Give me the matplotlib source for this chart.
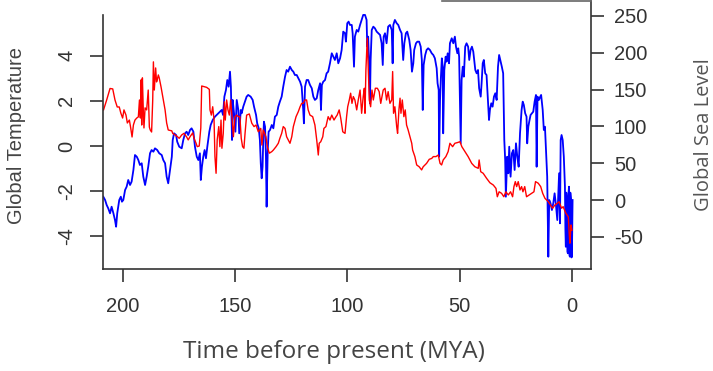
import matplotlib.pyplot as plt

plt.rcParams['font.family'] = ['Liberation Sans', 'DejaVu Sans']
plt.rcParams['axes.unicode_minus'] = False

# temperature record (left axis), time in million years before present
temp_time = [
    208.5, 207.1, 205.6, 204.4, 203.4, 202.4, 201.5, 200.8, 200.0, 199.4,
    198.5, 197.9, 197.0, 196.4, 195.8, 195.2, 194.5, 193.7, 193.0, 192.5,
    192.1, 191.8, 191.5, 191.2, 190.8, 190.5, 190.0, 189.3, 188.6, 188.1,
    187.7, 187.1, 186.6, 186.3, 185.9, 185.3, 184.9, 184.6, 184.1, 183.7,
    182.9, 181.9, 181.1, 180.4, 179.7, 178.1, 177.7, 176.7, 175.9, 174.8,
    173.7, 172.7, 171.5, 170.8, 170.0, 168.8, 168.2, 167.3, 166.8, 165.9,
    165.2, 164.8, 162.6, 161.4, 161.1, 160.5, 159.9, 159.3, 158.9, 158.4,
    157.9, 157.2, 156.7, 156.2, 155.8, 155.2, 154.7, 154.3, 153.7, 153.1,
    152.5, 151.9, 151.3, 150.7, 150.0, 149.2, 148.5, 147.8, 147.2, 146.6,
    146.0, 145.5, 144.8, 143.6, 142.5, 141.5, 140.6, 139.6, 138.5, 138.0,
    137.4, 136.8, 136.2, 135.6, 134.7, 133.6, 132.9, 131.7, 130.7, 130.0,
    129.2, 128.5, 127.7, 127.0, 126.3, 125.5, 124.7, 124.0, 122.8, 121.8,
    121.0, 120.3, 119.6, 118.8, 118.1, 117.4, 116.6, 115.4, 114.4, 113.6,
    112.9, 112.5, 111.8, 110.9, 110.4, 109.5, 108.5, 107.7, 106.9, 105.9,
    105.0, 104.5, 103.6, 102.9, 102.0, 101.0, 100.3, 99.8, 99.1, 98.5,
    97.9, 97.3, 96.6, 95.8, 95.1, 94.3, 93.6, 92.9, 92.4, 92.1,
    91.7, 91.1, 90.7, 90.2, 89.6, 89.0, 88.4, 87.5, 86.6, 85.8,
    85.1, 84.0, 83.2, 82.5, 81.8, 81.0, 80.2, 79.8, 79.4, 78.8,
    78.0, 77.6, 77.0, 76.5, 76.1, 75.5, 74.8, 74.2, 73.6, 72.9,
    72.1, 71.3, 70.9, 69.9, 69.1, 68.0, 66.9, 66.2, 64.7, 63.5,
    62.4, 61.7, 60.5, 59.5, 58.7, 58.0, 57.3, 56.1, 55.1, 54.3,
    53.1, 52.1, 51.0, 49.8, 49.0, 47.6, 46.2, 44.6, 43.2, 41.7,
    41.3, 40.6, 39.5, 38.0, 36.5, 35.0, 33.8, 33.2, 32.4, 31.3,
    30.3, 29.4, 28.3, 27.3, 26.4, 25.8, 25.2, 24.6, 23.9, 23.1,
    22.4, 21.8, 21.0, 20.2, 19.0, 17.9, 16.9, 16.2, 15.0, 13.9,
    13.0, 12.0, 10.5, 9.5, 8.6, 7.6, 6.5, 5.7, 4.6, 3.9,
    2.7, 1.6, 1.2, 0.9, 0.4, 0.0,
]
temperature = [
    1.60, 2.04, 2.55, 2.53, 2.04, 1.73, 1.73, 1.46, 1.24, 1.60,
    1.37, 1.02, 1.15, 0.80, 0.40, 0.93, 1.15, 1.24, 1.29, 2.04,
    1.24, 2.93, 0.93, 3.02, 1.60, 0.80, 1.69, 1.60, 2.48, 0.84,
    0.71, 0.62, 2.04, 3.73, 2.48, 3.46, 2.84, 2.93, 3.15, 3.02,
    2.62, 2.04, 1.60, 1.02, 0.71, 0.67, 0.56, 0.49, 0.44, 0.34,
    0.49, 0.56, 0.40, 0.27, 0.41, 0.58, 0.34, 0.12, -0.03, 0.00,
    0.80, 2.66, 2.60, 2.51, 1.60, 1.37, 1.74, 1.15, -0.47, -1.21,
    0.27, 0.86, -0.03, 1.15, -0.10, 0.56, 1.96, 1.15, 2.04, 1.60,
    1.37, 2.04, 1.30, 0.41, 1.30, 1.37, 1.30, 1.30, 0.34, -0.03,
    -0.10, 0.56, 1.37, 1.42, 1.01, 0.86, 0.93, 0.63, 0.78, 0.04,
    0.71, 0.56, 0.41, -0.03, -0.32, -0.25, -0.18, -0.03, 0.12, 0.34,
    0.56, 0.86, 0.78, 0.41, 0.27, 0.12, 0.41, 0.86, 1.30, 1.52,
    1.74, 1.89, 1.89, 2.04, 2.04, 1.60, 1.37, 1.30, 0.93, 0.27,
    -0.40, 0.12, 0.19, 0.41, 0.78, 0.86, 1.30, 1.15, 1.37, 1.15,
    1.30, 1.37, 1.60, 1.23, 0.63, 0.56, 1.30, 1.74, 2.04, 2.34,
    1.89, 2.19, 2.04, 1.60, 2.04, 2.48, 1.45, 2.19, 2.56, 1.45,
    3.37, 4.78, 3.52, 2.04, 1.74, 2.48, 2.04, 2.56, 2.56, 2.41,
    1.89, 2.48, 2.56, 2.04, 2.41, 1.89, 2.04, 3.30, 1.45, 1.74,
    0.86, 0.56, 1.60, 2.12, 1.45, 2.04, 1.30, 1.60, 0.93, 0.71,
    0.41, 0.12, -0.18, -0.47, -0.84, -0.92, -1.06, -0.92, -0.77, -0.59,
    -0.55, -0.47, -0.47, -0.40, -0.77, -0.84, -0.62, -0.47, -0.25, 0.12,
    -0.03, 0.12, 0.15, 0.19, -0.03, -0.25, -0.47, -0.77, -0.92, -0.99,
    -0.62, -1.14, -1.21, -1.43, -1.63, -1.73, -1.88, -2.25, -2.03, -2.10,
    -2.25, -2.03, -2.17, -2.03, -2.25, -1.80, -1.58, -1.80, -1.58, -1.95,
    -1.80, -2.03, -1.80, -2.25, -2.17, -2.10, -2.03, -1.58, -1.65, -1.80,
    -2.10, -2.32, -2.47, -2.62, -2.76, -2.62, -2.54, -2.47, -2.76, -2.69,
    -2.98, -3.14, -3.87, -4.31, -3.50, -3.73,
]

# sea level record (right axis)
sea_time = [
    208.6, 207.8, 207.1, 206.4, 205.6, 204.9, 204.1, 203.4, 202.9, 202.4,
    201.5, 200.8, 200.3, 199.7, 198.9, 198.2, 197.5, 196.7, 196.0, 195.2,
    194.5, 193.7, 193.0, 192.3, 191.5, 190.8, 190.0, 189.3, 188.6, 187.8,
    187.1, 186.3, 185.6, 184.6, 183.7, 182.6, 181.9, 181.1, 180.4, 179.7,
    178.1, 177.7, 177.1, 176.2, 175.7, 174.8, 173.7, 173.0, 172.2, 171.5,
    170.8, 170.0, 169.3, 168.5, 167.8, 167.0, 166.3, 165.6, 165.2, 164.7,
    164.1, 163.5, 162.9, 162.3, 161.4, 160.8, 159.9, 158.9, 157.4, 155.9,
    155.3, 154.7, 154.0, 153.4, 152.8, 152.2, 151.8, 151.3, 151.0, 150.4,
    149.8, 149.2, 148.5, 148.1, 147.4, 147.0, 146.3, 144.8, 144.1, 143.0,
    142.1, 141.5, 140.6, 140.1, 139.4, 138.9, 138.5, 138.1, 137.7, 137.4,
    137.1, 136.6, 136.2, 135.9, 135.4, 135.0, 134.4, 133.6, 132.9, 132.2,
    131.4, 130.7, 130.0, 129.2, 128.5, 127.7, 127.0, 126.3, 125.5, 124.7,
    124.0, 123.3, 122.5, 121.8, 121.0, 120.3, 119.6, 119.3, 118.8, 118.1,
    117.4, 116.6, 115.8, 115.1, 114.4, 113.6, 112.9, 112.1, 111.7, 111.3,
    110.7, 109.9, 109.2, 108.5, 107.7, 106.9, 106.2, 105.5, 104.7, 104.0,
    103.2, 102.5, 101.8, 101.0, 100.6, 100.0, 99.4, 98.8, 98.0, 97.6,
    97.0, 96.6, 95.8, 95.1, 94.3, 93.6, 92.9, 92.1, 91.4, 91.1,
    90.7, 90.2, 89.9, 89.6, 89.1, 88.4, 87.7, 86.9, 86.2, 85.4,
    84.7, 84.2, 83.8, 83.2, 82.5, 81.8, 81.0, 80.2, 79.8, 79.5,
    78.8, 78.0, 77.3, 76.5, 75.8, 75.1, 74.6, 73.9, 73.3, 72.4,
    71.8, 71.2, 70.6, 70.2, 69.4, 68.8, 68.0, 67.3, 66.8, 66.4,
    66.0, 65.3, 64.7, 64.0, 63.2, 62.4, 61.7, 61.0, 60.2, 59.8,
    59.3, 59.1, 58.7, 58.3, 57.9, 57.5, 57.3, 56.8, 56.2, 55.8,
    55.3, 54.7, 54.3, 53.5, 52.8, 52.1, 51.6, 51.0, 50.6, 50.2,
    49.5, 49.1, 48.6, 48.1, 47.5, 46.9, 46.2, 45.7, 45.1, 44.5,
    43.9, 43.5, 43.0, 42.4, 41.8, 41.3, 40.6, 40.2, 39.7, 39.2,
    38.6, 38.0, 37.4, 36.9, 36.5, 35.9, 35.3, 34.7, 34.1, 33.5,
    32.9, 32.4, 31.7, 31.2, 30.6, 30.1, 29.7, 29.4, 28.8, 28.3,
    27.9, 27.3, 26.7, 26.1, 25.5, 24.9, 24.3, 23.7, 23.1, 22.4,
    21.9, 21.4, 20.8, 20.2, 19.9, 19.4, 19.0, 18.4, 17.8, 17.2,
    16.6, 16.0, 15.7, 15.3, 14.7, 14.1, 13.7, 13.0, 12.5, 12.0,
    11.6, 11.0, 10.5, 10.1, 9.5, 8.9, 8.3, 7.7, 7.1, 6.5,
    6.1, 5.7, 5.3, 5.0, 4.6, 4.1, 3.6, 3.1,
    2.9, 2.7, 2.5, 2.2, 2.0, 1.8, 1.6, 1.3, 1.1, 0.9,
    0.7, 0.4, 0.2, 0.0, -0.3,
]
sea_level = [
    4.5, 0.0, -6.8, -11.3, -18.1, -9.1, -18.1, -27.2, -36.3, -18.1,
    0.0, 4.5, -2.3, 0.0, 13.6, 18.1, 27.2, 20.4, 24.9, 40.8,
    61.1, 58.8, 54.3, 47.6, 49.9, 31.7, 20.4, 31.7, 45.2, 63.5,
    67.9, 65.6, 70.2, 67.9, 63.5, 61.1, 54.3, 49.9, 31.7, 22.7,
    58.8, 81.5, 90.6, 88.3, 79.2, 72.4, 70.2, 81.5, 90.6, 92.8,
    88.3, 95.1, 97.4, 92.8, 72.4, 58.8, 54.3, 63.5, 27.2, 45.2,
    58.8, 67.9, 56.7, 72.4, 92.8, 101.9, 108.7, 113.2, 117.8, 122.3,
    115.5, 140.4, 149.5, 163.0, 153.9, 174.3, 153.9, 81.5, 135.9, 117.8,
    92.8, 135.9, 122.3, 90.6, 122.3, 117.8, 126.8, 140.4, 142.7, 140.4,
    135.9, 126.8, 115.5, 104.2, 97.4, 81.5, 49.9, 29.5, 45.2, 81.5,
    106.4, 99.6, 58.8, -9.1, 67.9, 92.8, 95.1, 101.9, 97.4, 113.2,
    115.5, 126.8, 133.6, 140.4, 153.9, 167.5, 176.6, 174.3, 181.1, 176.6,
    174.3, 169.8, 169.8, 165.4, 160.7, 153.9, 122.3, 104.2, 153.9, 163.0,
    163.0, 156.3, 151.8, 140.4, 135.9, 138.2, 149.5, 158.6, 122.3, 156.3,
    160.7, 163.0, 172.1, 174.3, 185.7, 199.3, 194.7, 190.2, 199.3, 185.7,
    192.5, 203.8, 228.7, 226.5, 215.1, 240.1, 242.3, 237.8, 237.8, 226.5,
    181.1, 221.9, 231.0, 228.7, 237.8, 244.6, 251.4, 251.4, 244.6, 208.3,
    221.9, 181.1, 131.4, 190.2, 231.0, 235.5, 233.3, 228.7, 226.5, 224.2,
    212.9, 183.4, 221.9, 226.5, 212.9, 235.5, 237.8, 231.0, 185.7, 237.8,
    244.6, 240.1, 237.8, 231.0, 226.5, 190.2, 212.9, 226.5, 228.7, 217.4,
    203.8, 174.3, 185.7, 203.8, 212.9, 215.1, 215.1, 208.3, 190.2, 122.3,
    183.4, 197.0, 203.8, 206.1, 203.8, 199.3, 197.0, 192.5, 178.9, 158.6,
    149.5, 58.8, 135.9, 167.5, 192.5, 181.1, 90.6, 176.6, 194.7, 187.9,
    199.3, 185.7, 212.9, 219.7, 212.9, 221.9, 208.3, 199.3, 206.1, 194.7,
    77.0, 163.0, 181.1, 167.5, 208.3, 212.9, 208.3, 190.2, 203.8, 208.3,
    201.5, 190.2, 176.6, 172.1, 176.6, 151.8, 140.4, 158.6, 185.7, 190.2,
    172.1, 169.8, 135.9, 108.7, 122.3, 131.4, 126.8, 140.4, 145.0, 135.9,
    181.1, 197.0, 187.9, 181.1, 172.1, 81.5, 54.3, 4.5, 58.8, 36.3,
    72.4, 31.7, 63.5, 67.9, 40.8, 77.0, 58.8, 45.2, 90.6, 122.3,
    133.6, 129.1, 117.8, 113.2, 77.0, 99.6, 106.4, 115.5, 117.8, 120.0,
    133.6, 142.7, 45.2, 140.4, 135.9, 140.4, 142.7, 122.3, 95.1, 99.6,
    72.4, 31.7, -77.0, 0.0, -4.5, -13.6, -4.5, 9.1, -6.8, -27.2,
    4.5, 36.3, -31.7, 81.5, 88.3, 81.5, 58.8, 18.1,
    -40.0, -63.5, 10.0, -22.7, -70.0, -72.4, 5.0, 18.1, -75.0, -77.0,
    10.0, 0.0, -78.0, -77.0, 0.0,
]

temp_ticks = [-4, -2, 0, 2, 4]
time_ticks = [200, 150, 100, 50, 0]
sea_ticks = [-50, 0, 50, 100, 150, 200, 250]

W, H = 713, 371
ink = '#333333'

fig = plt.figure(figsize=(W / 100, H / 100), dpi=100)
ax = fig.add_axes([103.3 / W, 1 - 268.7 / H, (591 - 103.3) / W, (268.7 - 0.5) / H])
ax2 = ax.twinx()
ax.set_zorder(ax2.get_zorder() + 1)
ax.patch.set_visible(False)

ax2.plot(sea_time, sea_level, color='#0000ff', lw=1.3)
ax.plot(temp_time, temperature, color='#ff0000', lw=1.0)

ax.set_xlim(208.6, -8.5)
ax.set_ylim(-5.44, 6.45)
ax2.set_ylim(-93.3, 271)

for s in ax2.spines.values():
    s.set_visible(False)
ax2.spines['right'].set_visible(True)
ax.spines['right'].set_visible(False)
for s in list(ax.spines.values()) + [ax2.spines['right']]:
    s.set_color(ink)
    s.set_linewidth(1.2)
ax.spines['left'].set_bounds(-5.44, 5.81)
ax.spines['top'].set_bounds(57.9, -8.5)
ax.spines['top'].set_color('#666666')

ax.set_xticks(time_ticks)
ax.set_yticks(temp_ticks)
ax2.set_yticks(sea_ticks)
ax.tick_params(axis='x', length=9.5, width=1.2, pad=11, labelsize=14.5, color=ink, labelcolor=ink)
ax.tick_params(axis='y', length=9.5, width=1.2, pad=10, labelsize=14.5, color=ink, labelcolor=ink)
ax2.tick_params(axis='y', length=9.5, width=1.2, pad=7, labelsize=14.5, color=ink, labelcolor=ink)
plt.setp(ax.get_yticklabels(), rotation=90, va='center')

fig.text(17 / W, 1 - 135 / H, 'Global Temperature', rotation=90, ha='center', va='center',
         fontsize=14.5, color='#444444')
fig.text(704 / W, 1 - 135 / H, 'Global Sea Level', rotation=90, ha='center', va='center',
         fontsize=14.5, color='#555555', family='Open Sans')
fig.text(334 / W, 1 - 352 / H, 'Time before present (MYA)', ha='center', va='center',
         fontsize=17.5, color='#444444', family='Open Sans')

fig.savefig('out.png', dpi=100)
